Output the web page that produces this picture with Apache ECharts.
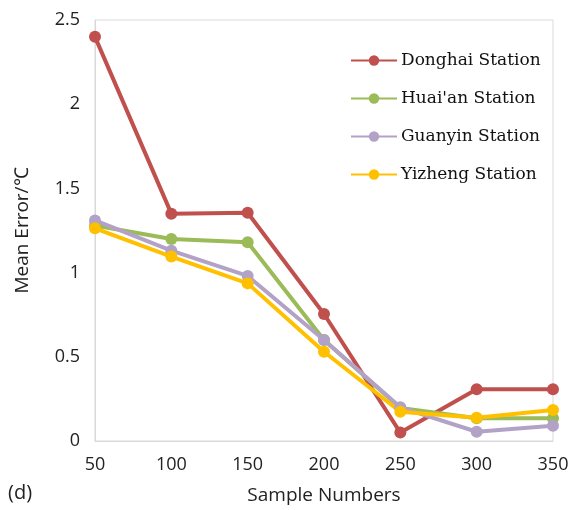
<!DOCTYPE html>
<html><head><meta charset="utf-8">
<script src="https://cdn.jsdelivr.net/npm/echarts@6/dist/echarts.min.js"></script>
<style>html,body{margin:0;padding:0;background:#fff}#c{width:573px;height:510px}</style>
</head><body><div id="c"></div>
<script>
var sampleNumbers = [50, 100, 150, 200, 250, 300, 350];
var donghai = [2.40, 1.35, 1.355, 0.754, 0.05, 0.307, 0.307];
var huaian  = [1.28, 1.20, 1.18, 0.60, 0.196, 0.135, 0.135];
var guanyin = [1.31, 1.13, 0.98, 0.60, 0.20, 0.055, 0.09];
var yizheng = [1.263, 1.095, 0.936, 0.53, 0.174, 0.138, 0.184];
var yTicks = ['0', '0.5', '1', '1.5', '2', '2.5'];

function pairs(v){ return sampleNumbers.map(function(x,i){ return [x, v[i]]; }); }
function ser(name, v, color){
  return {name:name, type:'line', data:pairs(v), symbol:'circle', symbolSize:12,
    lineStyle:{width:4, color:color}, itemStyle:{color:color}};
}
var chart = echarts.init(document.getElementById('c'), null, {renderer:'canvas'});
var labelFont = {fontFamily:'Open Sans', fontSize:18, color:'#222'};
chart.setOption({
  animation:false,
  grid:{left:95, top:20, right:20, bottom:69, show:true, borderColor:'#d9d9d9', borderWidth:1},
  legend:{orient:'vertical', left:350, top:52, padding:0, itemWidth:46, itemHeight:13, itemGap:21,
    textStyle:{fontFamily:'DejaVu Serif', fontSize:17, lineHeight:17, color:'#111', padding:[0,0,0,-1]},
    data:['Donghai Station','Huai\'an Station','Guanyin Station','Yizheng Station']},
  xAxis:{type:'value', min:50, max:350, interval:50,
    name:'Sample Numbers', nameLocation:'middle', nameGap:45,
    nameTextStyle:{fontFamily:'Open Sans', fontSize:19, color:'#222'},
    axisLine:{lineStyle:{color:'#d9d9d9'}}, axisTick:{show:false}, splitLine:{show:false},
    axisLabel:Object.assign({margin:15}, labelFont)},
  yAxis:{type:'value', min:0, max:2.5, interval:0.5,
    name:'Mean Error/℃', nameLocation:'middle', nameGap:63,
    nameTextStyle:{fontFamily:'Open Sans', fontSize:19, color:'#222'},
    axisLine:{show:true, lineStyle:{color:'#d9d9d9'}}, axisTick:{show:false}, splitLine:{show:false},
    axisLabel:Object.assign({margin:15, formatter:function(v){ return yTicks[Math.round(v/0.5)]; }}, labelFont)},
  graphic:[{type:'text', left:8, top:483, style:{text:'(d)', fontFamily:'Open Sans', fontSize:20, fill:'#222'}}],
  series:[
    ser('Donghai Station', donghai, '#C0504D'),
    ser('Huai\'an Station', huaian, '#9BBB59'),
    ser('Guanyin Station', guanyin, '#B3A2C7'),
    ser('Yizheng Station', yizheng, '#FFC000')
  ]
});
</script></body></html>
